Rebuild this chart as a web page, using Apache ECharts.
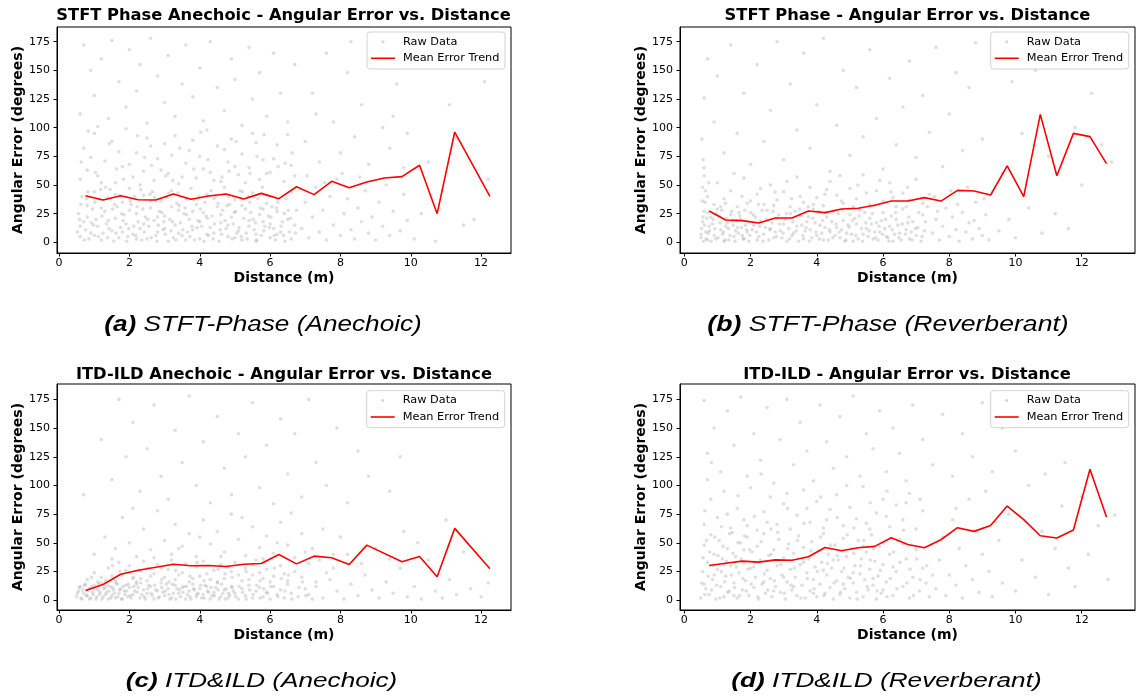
<!DOCTYPE html>
<html>
<head>
<meta charset="utf-8">
<script src="https://cdn.jsdelivr.net/npm/echarts@6/dist/echarts.min.js"></script>
<style>html,body{margin:0;padding:0;background:#fff;}#chart{width:1136px;height:700px;}</style>
</head>
<body>
<div id="chart"></div>
<script>
// ---------- DATA ----------
const xTicks = [0, 2, 4, 6, 8, 10, 12];
const yTicks = [0, 25, 50, 75, 100, 125, 150, 175];

const panelTitles = [
  'STFT Phase Anechoic - Angular Error vs. Distance',
  'STFT Phase - Angular Error vs. Distance',
  'ITD-ILD Anechoic - Angular Error vs. Distance',
  'ITD-ILD - Angular Error vs. Distance'
];
const captionTags = ['(a)', '(b)', '(c)', '(d)'];
const captionTexts = [' STFT-Phase (Anechoic)', ' STFT-Phase (Reverberant)', ' ITD&ILD (Anechoic)', ' ITD&ILD (Reverberant)'];

// Mean error trend (bin centres and means)
const trendXA = [0.75,1.25,1.75,2.25,2.75,3.25,3.75,4.25,4.75,5.25,5.75,6.25,6.75,7.25,7.75,8.25,8.75,9.25,9.75,10.25,10.75,11.25,12.25];
const trendYA = [40.7,36.9,40.7,37.2,36.9,42.2,37.5,40.4,42.2,37.8,42.7,38.1,48.5,41.6,53.2,47.7,52.6,56.1,57.3,67.2,25.0,96.2,40.1];

const trendXB = [0.75,1.25,1.75,2.25,2.75,3.25,3.75,4.25,4.75,5.25,5.75,6.25,6.75,7.25,7.75,8.25,8.75,9.25,9.75,10.25,10.75,11.25,11.75,12.25,12.75];
const trendYB = [27.3,19.5,18.9,16.9,21.2,21.2,27.3,25.9,29.1,29.7,32.3,36.0,36.0,39.0,36.0,45.3,44.8,41.3,66.6,39.8,111.6,58.1,95.0,92.2,68.6];

const trendXC = [0.75,1.25,1.75,2.25,2.75,3.25,3.75,4.25,4.75,5.25,5.75,6.25,6.75,7.25,7.75,8.25,8.75,9.75,10.25,10.75,11.25,12.25];
const trendYC = [8.4,13.7,22.7,26.2,28.8,31.4,30.0,30.3,29.4,31.4,32.0,39.9,31.7,38.4,37.0,31.2,48.0,33.5,38.1,20.4,62.6,27.4];

const trendXD = [0.75,1.25,1.75,2.25,2.75,3.25,3.75,4.25,4.75,5.25,5.75,6.25,6.75,7.25,7.75,8.25,8.75,9.25,9.75,10.25,10.75,11.25,11.75,12.25,12.75];
const trendYD = [30.3,32.3,34.1,33.2,35.2,34.9,37.9,46.0,43.1,45.7,46.9,54.5,48.6,45.7,52.7,63.2,60.0,65.2,82.1,70.2,56.2,54.2,61.2,114.2,72.5];

// Raw data (representative sample)
const rawA = [
[0.6,5],[0.7,18],[0.8,32],[0.9,8],[1.0,44],[1.1,14],[1.2,2],[1.3,27],[1.4,39],[1.5,10],[1.6,21],[1.7,4],[1.8,35],[1.9,16],[2.0,47],[2.1,7],[2.2,25],[2.3,12],[2.4,41],[2.5,3],[2.6,30],[2.7,19],[2.8,9],[2.9,36],[3.0,23],[3.1,1],[3.2,45],[3.3,15],[3.4,28],[3.5,6],[3.6,38],[3.7,20],[3.8,11],[3.9,33],[4.0,3],[4.1,26],[4.2,42],[4.3,13],[4.4,8],[4.5,31],[4.6,17],[4.7,48],[4.8,5],[4.9,22],[5.0,37],[5.1,10],[5.2,2],[5.3,29],[5.4,14],[5.5,43],[5.6,7],[5.7,24],[5.8,18],[5.9,34],[6.0,4],[6.1,12],[6.2,27],[6.3,9],[6.5,20],[6.6,3],[6.7,15],
[0.55,25],[0.65,40],[0.75,11],[0.85,3],[0.95,29],[1.05,20],[1.15,37],[1.25,8],[1.35,16],[1.45,46],[1.55,1],[1.65,31],[1.75,13],[1.85,24],[1.95,5],[2.05,33],[2.15,40],[2.25,18],[2.35,2],[2.45,22],[2.55,14],[2.65,44],[2.75,6],[2.85,27],[2.95,11],[3.05,39],[3.15,20],[3.25,4],[3.35,34],[3.45,17],[3.55,25],[3.65,9],[3.75,47],[3.85,2],[3.95,19],[4.05,14],[4.15,35],[4.25,6],[4.35,23],[4.45,40],[4.55,1],[4.65,28],[4.75,12],[4.85,33],[4.95,16],[5.05,8],[5.15,45],[5.25,21],[5.35,3],[5.45,26],[5.55,11],[5.65,38],[5.75,6],[5.85,14],[5.95,23],[6.05,31],[6.15,2],[6.35,18],[6.45,38],[6.55,9],[6.75,28],
[0.6,14],[0.8,22],[1.0,6],[1.2,30],[1.4,19],[1.6,42],[1.8,9],[2.0,28],[2.2,3],[2.4,16],[2.6,36],[2.8,22],[3.0,12],[3.2,31],[3.4,8],[3.6,2],[3.8,27],[4.0,18],[4.2,7],[4.4,38],[4.6,24],[4.8,15],[5.0,4],[5.2,32],[5.4,19],[5.6,1],[5.8,29],[6.0,16],[6.2,7],[6.4,25],
[0.52,9],[0.62,33],[0.72,2],[0.82,44],[0.92,17],[1.02,35],[1.12,5],[1.22,23],[1.32,48],[1.42,12],[1.52,29],[1.62,8],[1.72,41],[1.82,19],[1.92,1],[2.02,36],[2.12,14],[2.22,31],[2.32,46],[2.42,9],[2.52,20],[2.62,4],[2.72,39],[2.82,15],[2.92,26],[3.02,7],[3.12,43],[3.22,18],[3.32,2],[3.42,32],[3.52,11],[3.62,24],[3.72,5],[3.82,37],[3.92,13],[4.02,29],[4.12,1],[4.22,21],[4.32,45],[4.42,16],[4.52,34],[4.62,7],[4.72,19],[4.82,40],[4.92,3],[5.02,27],[5.12,13],[5.22,44],[5.32,8],[5.42,35],[5.52,20],[5.62,2],[5.72,30],[5.82,10],[5.92,41],[6.02,22],[6.12,6],[6.22,35],[6.32,14],[6.42,1],[6.52,28],[6.62,44],[6.72,8],
[0.58,20],[0.78,38],[0.98,15],[1.18,46],[1.38,4],[1.58,33],[1.78,25],[1.98,12],[2.18,6],[2.38,29],[2.58,42],[2.78,1],[2.98,18],[3.18,10],[3.38,43],[3.58,30],[3.78,14],[3.98,40],[4.18,23],[4.38,3],[4.58,11],[4.78,32],[4.98,26],[5.18,5],[5.38,40],[5.58,17],[5.78,48],[5.98,13],[6.18,30],[6.38,6],[6.58,21],
[0.6,55],[0.7,82],[0.8,63],[1.0,95],[1.1,58],[1.3,71],[1.5,88],[1.6,52],[1.8,66],[1.9,99],[2.1,57],[2.2,78],[2.4,62],[2.5,91],[2.7,54],[2.8,73],[3.0,86],[3.1,60],[3.3,93],[3.4,51],[3.6,69],[3.7,80],[3.9,56],[4.0,75],[4.2,98],[4.3,61],[4.5,84],[4.6,53],[4.8,70],[4.9,90],[5.1,59],[5.2,77],[5.4,65],[5.5,95],[5.7,55],[5.8,72],[6.0,61],[6.2,85],[6.4,53],[6.6,67],[0.9,74],[1.2,52],[1.7,79],[2.0,68],[2.3,50],[2.6,84],[2.9,63],[3.2,76],[3.5,57],[3.8,89],[4.1,64],[4.4,54],[4.7,81],[5.0,66],[5.3,52],[5.6,87],[5.9,60],[6.1,73],[6.5,94],[6.7,58],
[0.63,70],[1.03,61],[1.43,86],[1.83,55],[2.23,93],[2.63,67],[3.03,58],[3.43,82],[3.83,64],[4.23,72],[4.63,57],[5.03,88],[5.43,60],[5.83,94],[6.23,66],[6.63,78],[0.83,97],[1.63,64],[2.43,74],[3.23,54],[4.03,96],[4.83,62],[5.63,75],[6.43,69],
[0.6,112],[0.7,172],[0.9,150],[1.0,128],[1.2,160],[1.4,108],[1.5,176],[1.7,140],[1.9,118],[2.0,168],[2.2,132],[2.3,155],[2.5,104],[2.6,178],[2.8,145],[3.0,122],[3.1,163],[3.3,110],[3.5,138],[3.6,172],[3.8,127],[4.0,152],[4.1,106],[4.3,175],[4.5,135],[4.7,115],[4.9,160],[5.0,142],[5.2,102],[5.4,170],[5.5,125],[5.7,148],[5.9,110],[6.1,165],[6.3,130],[6.5,105],[6.7,155],[1.1,101],
[6.9,12],[7.0,35],[7.1,4],[7.2,22],[7.3,48],[7.4,9],[7.5,28],[7.6,2],[7.7,40],[7.8,15],[7.9,55],[8.0,6],[8.1,25],[8.2,38],[8.3,11],[8.4,3],[8.5,30],[8.6,18],[8.7,45],[8.8,8],[8.9,22],[9.0,2],[9.1,35],[9.2,14],[9.3,50],[9.4,6],[9.5,27],[9.7,10],[9.8,42],[9.9,19],[7.05,58],[7.55,52],[8.05,60],[8.55,57],
[7.0,88],[7.2,130],[7.4,70],[7.6,165],[7.8,105],[8.0,78],[8.2,148],[8.4,92],[8.6,120],[8.8,68],[9.0,172],[9.2,100],[9.4,82],[9.6,138],[9.8,65],[7.3,112],[8.3,175],[8.9,155],[9.5,110],[9.9,95],
[10.1,3],[10.3,25],[10.5,70],[10.7,1],[10.9,45],[11.1,120],[11.3,90],[11.5,15],[11.8,20],[12.1,140],[12.2,55],[10.8,160]
];

const rawB = [
[0.5,4],[0.55,18],[0.6,27],[0.65,9],[0.7,2],[0.75,14],[0.8,22],[0.9,6],[1.0,29],[1.1,11],[1.2,1],[1.3,17],[1.4,24],[1.5,5],[1.6,13],[1.7,20],[1.8,3],[1.9,9],[2.0,26],[2.1,15],[2.2,2],[2.3,19],[2.4,7],[2.5,28],[2.6,12],[2.7,4],[2.8,21],[2.9,10],[3.0,16],[3.1,1],[3.2,25],[3.3,8],[3.4,14],[3.5,23],[3.6,3],[3.7,18],[3.8,11],[3.9,29],[4.0,6],[4.1,15],[4.2,2],[4.3,22],[4.4,9],[4.5,27],[4.6,13],[4.7,4],[4.8,19],[4.9,8],[5.0,24],[5.1,1],[5.2,16],[5.3,28],[5.4,7],[5.5,12],[5.6,21],[5.7,3],[5.8,17],[5.9,9],[6.0,26],[6.1,5],[6.2,14],[6.3,1],[6.4,20],[6.5,8],[6.6,29],[6.7,11],[6.8,3],[6.9,18],[7.0,6],[7.2,24],
[0.52,12],[0.58,1],[0.62,35],[0.68,21],[0.72,8],[0.85,16],[0.95,3],[1.05,23],[1.15,7],[1.25,14],[1.35,2],[1.45,19],[1.55,10],[1.65,26],[1.75,6],[1.85,15],[1.95,1],[2.05,11],[2.15,22],[2.25,5],[2.35,28],[2.45,13],[2.55,2],[2.65,17],[2.75,9],[2.85,24],[2.95,4],[3.05,20],[3.15,12],[3.25,6],[3.35,27],[3.45,1],[3.55,15],[3.65,10],[3.75,22],[3.85,4],[3.95,17],[4.05,27],[4.15,8],[4.25,13],[4.35,2],[4.45,18],[4.55,6],[4.65,25],[4.75,11],[4.85,1],[4.95,15],[5.05,7],[5.15,21],[5.25,3],[5.35,12],[5.45,26],[5.55,5],[5.65,16],[5.75,9],[5.85,2],[5.95,19],[6.05,12],[6.15,4],[6.25,23],[6.35,7],[6.45,15],[6.55,2],[6.75,17],[6.85,9],[7.05,13],[7.15,1],[7.25,10],
[0.51,7],[0.56,22],[0.61,15],[0.66,3],[0.71,26],[0.76,10],[0.81,1],[0.87,20],[0.92,12],[0.97,25],[1.02,4],[1.08,17],[1.13,28],[1.18,9],[1.23,2],[1.28,21],[1.33,12],[1.38,6],[1.43,27],[1.48,15],[1.53,1],[1.58,19],[1.63,8],[1.68,23],[1.73,13],[1.78,3],[1.83,28],[1.88,11],[1.93,18],[1.98,6],[2.08,24],[2.18,9],[2.28,14],[2.38,1],[2.48,20],[2.58,11],[2.68,27],[2.78,5],[2.88,16],[2.98,8],[3.08,25],[3.18,3],[3.28,18],[3.38,10],[3.48,29],[3.58,6],[3.68,13],[3.78,1],[3.88,21],[3.98,9],[4.08,3],[4.18,19],[4.28,26],[4.38,11],[4.48,4],[4.58,16],[4.68,9],[4.78,28],[4.88,2],[4.98,13],[5.08,19],[5.18,6],[5.28,23],[5.38,1],[5.48,17],[5.58,10],[5.68,25],[5.78,4],[5.88,14],[5.98,7],[6.08,20],[6.18,1],[6.28,11],[6.38,26],[6.48,4],[6.58,16],[6.68,7],[6.78,22],[6.88,2],[6.98,12],[7.08,26],[7.18,5],[7.28,18],
[0.55,48],[0.6,58],[0.7,40],[0.9,33],[1.0,52],[1.2,38],[1.4,45],[1.6,31],[1.8,56],[2.0,36],[2.2,42],[2.4,33],[2.6,50],[2.8,37],[3.0,44],[3.2,31],[3.4,57],[3.6,35],[3.8,48],[4.0,39],[4.2,32],[4.4,53],[4.6,41],[4.8,34],[5.0,47],[5.2,38],[5.4,59],[5.6,33],[5.8,45],[6.0,36],[6.2,52],[6.4,31],[6.6,43],[6.8,37],[7.0,55],[7.2,34],[7.4,42],[1.1,31],[1.5,60],[1.9,34],[2.3,47],[2.7,32],[3.1,53],[3.5,40],[3.9,33],[4.3,46],[4.7,58],[5.1,31],[5.5,43],[5.9,54],[6.3,39],[6.7,31],
[0.54,36],[0.64,45],[0.74,52],[1.24,34],[1.74,40],[2.24,33],[2.74,44],[3.24,38],[3.74,31],[4.24,42],[4.74,36],[5.24,50],[5.74,32],[6.24,44],[6.74,48],[7.34,31],[0.57,72],[0.53,90],
[0.6,65],[0.6,126],[0.7,160],[0.9,105],[1.0,145],[1.2,78],[1.4,172],[1.6,95],[1.8,130],[2.0,68],[2.2,155],[2.4,88],[2.6,115],[2.8,175],[3.0,72],[3.2,138],[3.4,98],[3.6,165],[3.8,82],[4.0,120],[4.2,178],[4.4,62],[4.6,102],[4.8,150],[5.0,76],[5.2,135],[5.4,92],[5.6,168],[5.8,108],[6.0,64],[6.2,143],[6.4,85],[6.6,118],[6.8,158],[7.0,74],[7.2,128],[7.4,96],[7.6,170],[7.8,66],[8.0,112],[8.2,148],[8.4,80],[8.6,135],[8.8,174],[9.0,90],
[7.5,8],[7.6,20],[7.7,2],[7.8,14],[7.9,30],[8.0,5],[8.1,22],[8.2,11],[8.3,1],[8.4,26],[8.5,9],[8.6,17],[8.7,3],[8.8,35],[8.9,12],[9.0,6],[9.1,24],[9.2,2],[7.55,40],[8.05,45],[8.55,48],[9.05,38],[7.65,27],[8.25,33],[8.75,19],
[9.5,10],[9.6,60],[9.8,20],[9.9,140],[10.0,4],[10.2,95],[10.4,30],[10.6,150],[10.8,8],[11.0,75],[11.2,25],[11.4,165],[11.6,12],[11.8,100],[12.0,50],[12.3,130],[12.6,85],[12.9,70]
];

const rawC = [
[0.5,3],[0.55,8],[0.6,12],[0.65,1],[0.7,6],[0.75,14],[0.8,4],[0.85,10],[0.9,2],[0.95,7],[1.0,13],[1.05,1],[1.1,9],[1.15,5],[1.2,15],[1.25,3],[1.3,11],[1.35,7],[1.4,1],[1.45,12],[1.5,4],[1.55,9],[1.6,2],[1.65,14],[1.7,6],[1.75,10],[1.8,1],[1.85,8],[1.9,13],[1.95,3],[2.0,11],[2.1,5],[2.2,14],[2.3,2],[2.4,9],[2.5,6],[2.6,12],[2.7,1],[2.8,8],[2.9,15],[3.0,4],[3.1,10],[3.2,2],[3.3,13],[3.4,6],[3.5,11],[3.6,1],[3.7,8],[3.8,14],[3.9,3],[4.0,10],[4.1,5],[4.2,12],[4.3,1],[4.4,7],[4.5,15],[4.6,3],[4.7,9],[4.8,2],[4.9,12],[5.0,6],[5.1,1],[5.2,10],[5.3,4],[5.4,13],[5.5,2],[5.6,8],[5.7,11],[5.8,3],[5.9,7],[6.0,1],[6.1,12],[6.2,5],[6.3,9],[6.4,2],[6.5,14],[6.6,6],[6.8,3],[7.0,10],[7.2,1],
[2.05,2],[2.15,8],[2.25,11],[2.35,5],[2.45,1],[2.55,13],[2.65,4],[2.75,9],[2.85,3],[2.95,7],[3.05,14],[3.15,1],[3.25,6],[3.35,10],[3.45,3],[3.55,12],[3.65,5],[3.75,1],[3.85,9],[3.95,6],[4.05,2],[4.15,13],[4.25,7],[4.35,4],[4.45,11],[4.55,1],[4.65,6],[4.75,10],[4.85,4],[4.95,8],
[0.52,6],[0.57,11],[0.62,2],[0.67,9],[0.72,13],[0.77,4],[0.82,8],[0.87,1],[0.92,12],[0.97,5],[1.02,10],[1.07,3],[1.12,14],[1.17,7],[1.22,1],[1.27,10],[1.32,5],[1.37,13],[1.42,8],[1.47,2],[1.52,11],[1.57,6],[1.62,15],[1.67,3],[1.72,9],[1.77,1],[1.82,12],[1.87,5],[1.92,8],[1.97,14],[2.02,4],[2.12,12],[2.22,7],[2.32,15],[2.42,3],[2.52,10],[2.62,6],[2.72,13],[2.82,2],[2.92,11],[3.02,8],[3.12,5],[3.22,14],[3.32,1],[3.42,9],[3.52,7],[3.62,12],[3.72,3],[3.82,10],[3.92,5],[4.02,13],[4.12,2],[4.22,8],[4.32,11],[4.42,4],[4.52,9],[4.62,14],[4.72,1],[4.82,6],[4.92,11],[5.02,3],[5.12,12],[5.22,7],[5.32,1],[5.42,9],[5.52,5],[5.62,13],[5.72,2],[5.82,10],[5.92,6],[6.02,12],[6.22,3],[6.42,8],[6.62,1],[6.82,11],[7.02,4],
[0.8,18],[1.0,24],[1.2,20],[1.4,28],[1.6,17],[1.7,33],[1.8,22],[2.0,30],[2.1,19],[2.3,26],[2.4,34],[2.5,17],[2.7,23],[2.8,31],[3.0,20],[3.1,27],[3.2,35],[3.3,18],[3.5,24],[3.6,32],[3.7,16],[3.9,29],[4.0,21],[4.1,34],[4.3,18],[4.4,26],[4.6,31],[4.7,19],[4.9,25],[5.0,33],[5.2,17],[5.3,28],[5.5,22],[5.6,35],[5.8,19],[5.9,27],[6.1,21],[6.3,30],[6.5,17],[6.7,25],[6.9,20],[7.1,32],[7.3,16],[7.6,24],[1.1,16],[1.5,21],[1.9,26],[2.2,16],[2.6,21],[2.9,28],[3.4,22],[3.8,19],[4.2,23],[4.5,16],[4.8,29],[5.1,22],[5.4,18],[5.7,24],[6.0,16],[6.4,23],
[0.92,20],[1.32,17],[1.72,25],[2.12,20],[2.52,28],[2.92,18],[3.32,26],[3.72,21],[4.12,17],[4.52,27],[4.92,20],[5.32,25],[5.72,17],[6.12,28],[6.52,22],[6.92,16],[1.52,30],[2.32,19],[3.12,16],[3.92,33],[4.72,23],[5.52,31],[6.32,19],
[1.0,40],[1.3,55],[1.6,45],[1.8,72],[2.0,50],[2.2,38],[2.4,62],[2.6,44],[2.8,78],[3.0,52],[3.2,40],[3.3,66],[3.5,47],[3.7,58],[3.9,38],[4.1,70],[4.3,49],[4.5,60],[4.7,42],[4.9,75],[5.1,53],[5.3,39],[5.5,64],[5.7,46],[5.9,56],[6.1,41],[6.3,68],[6.5,48],[6.7,37],[6.9,58],[7.2,45],[7.5,62],[7.8,40],[8.0,55],[1.5,36],[2.1,80],[2.7,37],[3.4,45],[4.0,55],[4.6,38],[5.2,72],[5.8,36],[6.2,50],[6.6,76],[7.0,42],
[0.7,92],[1.2,140],[1.5,105],[1.7,175],[1.9,125],[2.1,155],[2.3,95],[2.5,132],[2.7,170],[2.9,108],[3.1,88],[3.3,148],[3.5,120],[3.7,178],[3.9,100],[4.1,138],[4.3,85],[4.5,160],[4.7,115],[4.9,92],[5.1,145],[5.3,125],[5.5,172],[5.7,98],[5.9,135],[6.1,84],[6.3,158],[6.5,110],[6.7,145],[6.9,90],[7.1,175],[7.3,120],[7.6,100],[7.9,150],[8.2,85],[8.5,130],[8.8,108],[9.1,168],[9.4,95],[9.7,125],
[7.1,5],[7.3,12],[7.5,2],[7.7,18],[7.9,8],[8.1,1],[8.3,14],[8.5,4],[8.7,22],[8.9,9],[9.1,2],[9.3,16],[9.5,6],[9.7,28],[9.9,3],[10.1,12],[10.3,1],[10.5,35],[10.7,8],[10.9,2],[11.1,18],[11.3,5],[11.5,42],[11.7,10],[12.0,3],[12.2,15],[7.4,35],[7.8,28],[8.2,40],[8.6,32],[9.0,45],[9.4,36],[9.8,60],[10.2,50],[11.0,70]
];

const rawD = [
[0.5,2],[0.55,25],[0.6,48],[0.65,10],[0.7,33],[0.75,5],[0.8,57],[0.85,18],[0.9,40],[0.95,1],[1.0,27],[1.05,52],[1.1,12],[1.15,36],[1.2,3],[1.25,21],[1.3,45],[1.35,8],[1.4,30],[1.45,59],[1.5,15],[1.55,38],[1.6,2],[1.65,24],[1.7,50],[1.75,9],[1.8,33],[1.85,17],[1.9,55],[1.95,4],[2.0,28],[2.05,42],[2.1,11],[2.15,20],[2.2,47],[2.25,1],[2.3,35],[2.35,14],[2.4,58],[2.45,6],[2.5,26],[2.55,39],[2.6,19],[2.65,3],[2.7,44],[2.75,12],[2.8,30],[2.85,53],[2.9,7],[2.95,22],[3.0,37],[3.05,1],[3.1,16],[3.15,49],[3.2,27],[3.25,9],[3.3,41],[3.35,20],[3.4,4],[3.45,56],[3.5,31],[3.55,13],[3.6,46],[3.65,2],[3.7,24],[3.75,36],[3.8,8],[3.85,51],[3.9,18],[3.95,29],[4.0,3],[4.05,43],[4.1,14],[4.15,33],[4.2,58],[4.25,6],[4.3,22],[4.35,40],[4.4,11],[4.45,28],[4.5,1],[4.55,48],[4.6,17],[4.65,35],[4.7,5],[4.75,25],[4.8,54],[4.85,10],[4.9,38],[4.95,20],[5.0,2],[5.05,45],[5.1,15],[5.15,30],[5.2,7],[5.25,52],[5.3,23],[5.35,36],[5.4,3],[5.45,18],[5.5,42],[5.55,9],[5.6,27],[5.65,57],[5.7,13],[5.75,34],[5.8,1],[5.85,21],[5.9,47],[5.95,6],[6.0,31],[6.1,16],[6.2,40],[6.3,4],[6.4,25],[6.5,53],[6.6,12],[6.7,36],[6.8,2],[6.9,20],[7.0,44],[7.1,8],[7.2,28],[7.3,15],[7.4,3],[7.5,22],
[0.6,14],[0.9,22],[1.2,31],[1.5,4],[1.8,44],[2.1,29],[2.4,16],[2.7,8],[3.0,20],[3.3,12],[3.6,33],[3.9,6],[4.2,26],[4.5,35],[4.8,14],[5.1,24],[5.4,47],[5.7,19],[6.0,9],[6.3,29],
[0.52,15],[0.57,37],[0.62,5],[0.67,52],[0.72,21],[0.77,42],[0.82,9],[0.87,30],[0.92,55],[0.97,13],[1.02,39],[1.07,2],[1.12,25],[1.17,47],[1.22,16],[1.27,34],[1.32,7],[1.37,58],[1.42,22],[1.47,41],[1.52,11],[1.57,29],[1.62,50],[1.67,4],[1.72,36],[1.77,19],[1.82,56],[1.87,8],[1.92,27],[1.97,44],[2.02,14],[2.12,33],[2.22,3],[2.32,51],[2.42,23],[2.52,9],[2.62,40],[2.72,17],[2.82,59],[2.92,31],[3.02,6],[3.12,45],[3.22,13],[3.32,28],[3.42,52],[3.52,2],[3.62,37],[3.72,19],[3.82,43],[3.92,10],[4.02,25],[4.12,55],[4.22,4],[4.32,32],[4.42,48],[4.52,15],[4.62,39],[4.72,7],[4.82,28],[4.92,57],[5.02,19],[5.12,41],[5.22,1],[5.32,30],[5.42,52],[5.52,12],[5.62,35],[5.72,45],[5.82,8],[5.92,26],[6.02,50],[6.12,3],[6.22,19],[6.32,42],[6.42,10],[6.52,33],[6.62,49],[6.72,15],[6.82,27],[6.92,4],[7.02,36],[7.12,18],[7.32,30],
[0.6,66],[0.8,88],[1.0,72],[1.2,95],[1.4,63],[1.6,80],[1.8,70],[2.0,98],[2.2,61],[2.4,77],[2.6,90],[2.8,66],[3.0,84],[3.2,62],[3.4,74],[3.6,96],[3.8,68],[4.0,86],[4.2,63],[4.4,79],[4.6,92],[4.8,65],[5.0,81],[5.2,71],[5.4,99],[5.6,62],[5.8,76],[6.0,88],[6.2,64],[6.4,83],[6.6,70],[6.8,93],[7.0,62],[7.2,78],[0.7,105],[1.3,75],[1.9,65],[2.5,68],[3.1,93],[3.7,80],[4.3,70],[4.9,100],[5.5,67],[6.1,73],[6.7,85],
[0.62,78],[1.12,64],[1.62,91],[2.12,73],[2.62,62],[3.12,80],[3.62,67],[4.12,90],[4.62,72],[5.12,63],[5.62,85],[6.12,95],[6.62,61],[7.12,88],[0.82,120],[2.32,110],
[0.6,174],[0.7,128],[0.9,150],[1.1,112],[1.3,165],[1.5,135],[1.7,177],[1.9,108],[2.1,145],[2.3,122],[2.5,168],[2.7,102],[2.9,140],[3.1,175],[3.3,118],[3.5,155],[3.7,130],[3.9,104],[4.1,170],[4.3,138],[4.5,115],[4.7,160],[4.9,125],[5.1,178],[5.3,108],[5.5,145],[5.7,132],[5.9,165],[6.1,112],[6.3,150],[6.5,128],[6.7,104],[6.9,170],[7.2,140],[7.5,118],[7.8,162],[8.1,108],[8.4,145],[8.7,125],[9.0,172],[9.3,112],[9.6,150],[10.0,130],[10.5,165],[11.5,120],
[7.6,10],[7.7,35],[7.8,55],[7.9,4],[8.0,22],[8.1,70],[8.2,13],[8.3,45],[8.4,2],[8.5,30],[8.6,88],[8.7,18],[8.8,60],[8.9,7],[9.0,40],[9.1,95],[9.2,25],[9.3,3],[9.5,52],[9.6,15],[9.8,75],[10.0,8],[10.2,35],[10.4,100],[10.6,20],[10.8,60],[11.0,5],[11.2,45],[11.4,82],[11.6,28],[11.8,12],[12.0,90],[12.2,40],[12.5,65],[12.8,18],[13.0,74],[8.2,80],[9.4,68],[10.9,110]
];

// ---------- LAYOUT ----------
const grids = [
  {left: 57,  top: 27,  width: 454, height: 226},
  {left: 680, top: 27,  width: 455, height: 226},
  {left: 57,  top: 384, width: 454, height: 226},
  {left: 680, top: 384, width: 455, height: 226}
];
const xRanges = [[-0.06, 12.85], [-0.13, 13.61], [-0.06, 12.85], [-0.13, 13.61]];
const yRanges = [[-9.3, 187.8], [-9.3, 187.8], [-8.5, 188.4], [-8.5, 188.4]];
const titlePos = [[283.5, 8], [907.5, 8], [284, 367], [907, 367]];
const legendBox = [[367, 32], [990.7, 32], [366.7, 390.7], [990.7, 390.7]];
const captionPos = [[263, 325, 22, 1.19], [888, 325, 22, 1.21], [261.5, 682, 19.5, 1.34], [886.5, 682, 19.5, 1.345]];

const raws = [rawA, rawB, rawC, rawD];
const trends = [[trendXA, trendYA], [trendXB, trendYB], [trendXC, trendYC], [trendXD, trendYD]];

const FONT = 'DejaVu Sans';
const option = {
  animation: false,
  backgroundColor: '#ffffff',
  title: [], grid: [], xAxis: [], yAxis: [], series: [], legend: [], graphic: []
};

for (let i = 0; i < 4; i++) {
  option.grid.push(Object.assign({show: true, borderColor: '#000', borderWidth: 1, backgroundColor: 'transparent'}, grids[i]));
  option.title.push({
    text: panelTitles[i], left: titlePos[i][0], top: titlePos[i][1], textAlign: 'center', padding: 0,
    textStyle: {fontFamily: FONT, fontWeight: 'bold', fontSize: 16.3, color: '#000'}
  });
  option.xAxis.push({
    gridIndex: i, type: 'value', min: xRanges[i][0], max: xRanges[i][1],
    name: 'Distance (m)', nameLocation: 'middle', nameGap: 18,
    nameTextStyle: {fontFamily: FONT, fontWeight: 'bold', fontSize: 14, color: '#000'},
    axisLine: {show: true, onZero: false, lineStyle: {color: '#000', width: 1}},
    axisTick: {show: true, length: 3.5, customValues: xTicks, lineStyle: {color: '#000', width: 1}},
    axisLabel: {customValues: xTicks, fontFamily: FONT, fontSize: 11, color: '#000', margin: 5},
    splitLine: {show: false}
  });
  option.yAxis.push({
    gridIndex: i, type: 'value', min: yRanges[i][0], max: yRanges[i][1],
    name: 'Angular Error (degrees)', nameLocation: 'middle', nameGap: 31, nameRotate: 90,
    nameTextStyle: {fontFamily: FONT, fontWeight: 'bold', fontSize: 14, color: '#000'},
    axisLine: {show: true, onZero: false, lineStyle: {color: '#000', width: 1}},
    axisTick: {show: true, length: 3.5, customValues: yTicks, lineStyle: {color: '#000', width: 1}},
    axisLabel: {customValues: yTicks, fontFamily: FONT, fontSize: 11, color: '#000', margin: 7},
    splitLine: {show: false}
  });
  option.series.push({
    type: 'scatter', name: 'Raw Data', xAxisIndex: i, yAxisIndex: i,
    data: raws[i], symbolSize: 3.6, silent: true, z: 2,
    itemStyle: {color: 'rgba(150,150,150,0.38)'}
  });
  const tx = trends[i][0], ty = trends[i][1];
  option.series.push({
    type: 'line', name: 'Mean Error Trend', xAxisIndex: i, yAxisIndex: i,
    data: tx.map((x, k) => [x, ty[k]]), symbol: 'none', showSymbol: false, z: 3,
    lineStyle: {color: '#ff0000', width: 1.6}, itemStyle: {color: '#ff0000'}
  });
  const bx = legendBox[i][0], by = legendBox[i][1];
  option.graphic.push({
    type: 'rect', z: 4, silent: true,
    shape: {x: bx, y: by, width: 138, height: 37, r: 3},
    style: {fill: 'rgba(255,255,255,0.85)', stroke: '#d3d3d3', lineWidth: 1}
  });
  option.legend.push({
    data: [{name: 'Raw Data', icon: 'circle', itemStyle: {color: 'rgba(160,160,160,0.55)'}}],
    left: bx + 14.5, top: by + 2.7, padding: 0, orient: 'vertical', z: 6,
    selectedMode: false, itemWidth: 3, itemHeight: 3,
    textStyle: {fontFamily: FONT, fontSize: 11.3, color: '#000', lineHeight: 14, padding: [0, 0, 0, 13.5]}
  });
  option.legend.push({
    data: [{name: 'Mean Error Trend', icon: 'rect', itemStyle: {color: '#ff0000'}}],
    left: bx + 4, top: by + 19.3, padding: 0, orient: 'vertical', z: 6,
    selectedMode: false, itemWidth: 24, itemHeight: 1.6,
    textStyle: {fontFamily: FONT, fontSize: 11.3, color: '#000', lineHeight: 14, padding: [0, 0, 0, 3]}
  });
  const cp = captionPos[i];
  option.graphic.push({
    type: 'text', x: cp[0], y: cp[1], scaleX: cp[3], scaleY: 1, silent: true,
    style: {
      text: '{b|' + captionTags[i] + '}' + captionTexts[i],
      fontFamily: 'Liberation Sans', fontSize: cp[2], fontStyle: 'italic', fill: '#000',
      align: 'center', verticalAlign: 'middle',
      rich: {b: {fontFamily: 'Liberation Sans', fontSize: cp[2], fontStyle: 'italic', fontWeight: 'bold', fill: '#000'}}
    }
  });
}

const chart = echarts.init(document.getElementById('chart'), null, {renderer: 'canvas'});
chart.setOption(option);
</script>
</body>
</html>
